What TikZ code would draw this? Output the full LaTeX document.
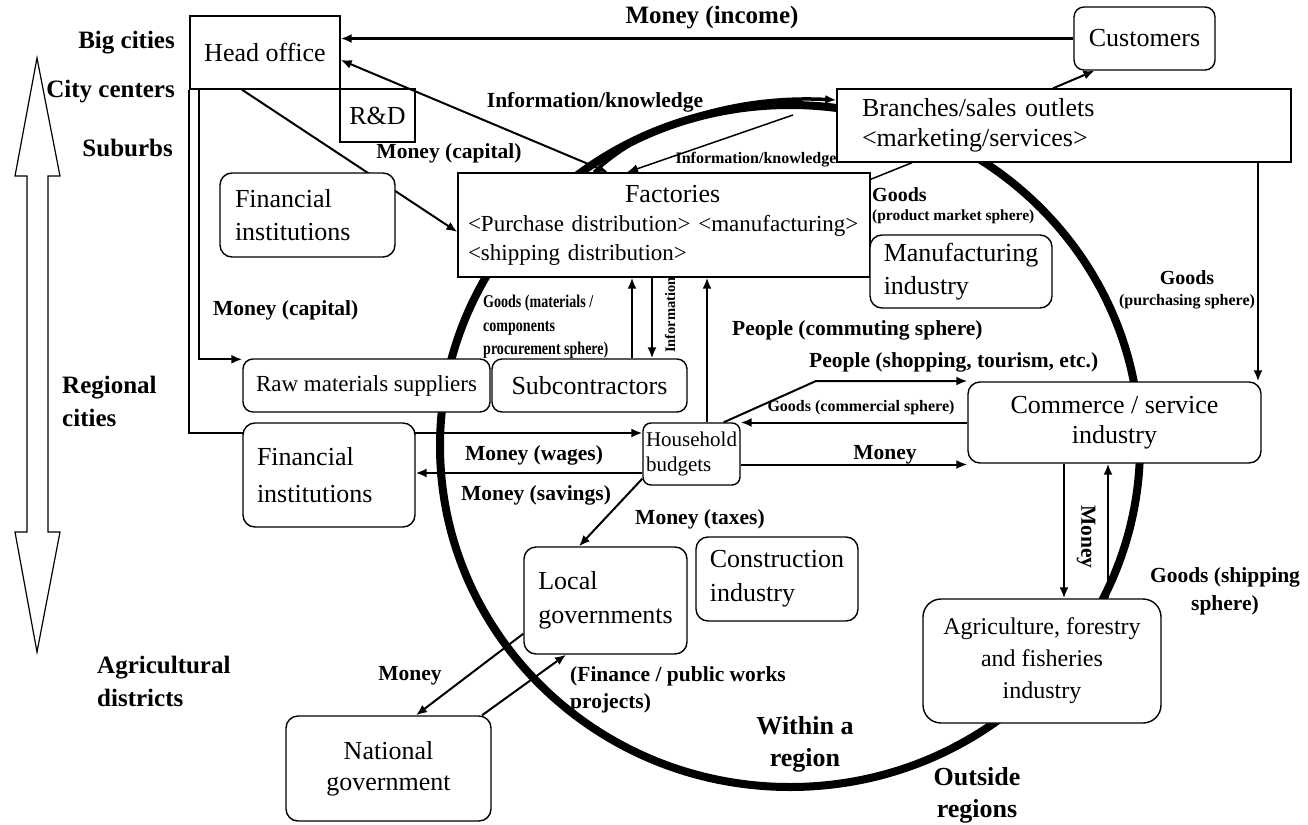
\documentclass[tikz,border=0pt]{standalone}
\usepackage{fontspec}
\usepackage{graphicx}
\setmainfont{Liberation Serif}
\usetikzlibrary{arrows.meta}
\pgfdeclarelayer{bg}
\pgfsetlayers{bg,main}
\newcommand\fsz[2]{\fontsize{#1}{#2}\selectfont}

\begin{document}
\begin{tikzpicture}[x=1pt,y=-1pt,
  box/.style={draw, line width=1.4pt, fill=white, inner sep=0pt, font=\fsz{26}{32}},
  rbox/.style={box, rounded corners=12pt},
  lab/.style={inner sep=0pt, font=\bfseries\fsz{21.5}{25}},
  region/.style={inner sep=0pt, font=\bfseries\fsz{25}{33}},
  arr/.style={line width=2pt, -{Latex[length=11pt,width=9pt]}},
  link/.style={line width=1.5pt}]

\useasboundingbox (0,0) rectangle (1308,824);

% ---------- boxes ----------
\node[box, minimum width=150pt, minimum height=73pt] (ho) at (265,52.5) {Head office};
\node[box, minimum width=75pt, minimum height=53pt] (rd) at (377.5,115.5) {R\&D};
\node[rbox, rounded corners=10pt, minimum width=141pt, minimum height=63pt] (cust) at (1144.5,38.5) {Customers};
\node[box, text width=404pt, inner xsep=25pt, minimum height=73pt, align=left, font=\fsz{26}{30}] (br) at (1064,125.5)
  {Branches/sales outlets\\<marketing/services>};
\node[box, text width=392pt, inner xsep=10pt, minimum height=104pt, align=left, font=\fsz{23}{29}] (fac) at (664,225)
  {{\fsz{26}{29}\hspace*{157pt}Factories}\\<Purchase distribution> <manufacturing>\\<shipping distribution>};
\node[rbox, minimum width=182pt, minimum height=73pt, align=left, font=\fsz{26}{33}] (mfg) at (961,271.5) {Manufacturing\\industry};
\node[rbox, text width=145pt, inner xsep=15pt, minimum height=84pt, align=left, font=\fsz{26}{33}] (fin1) at (307.5,215) {Financial\\institutions};
\node[rbox, text width=144pt, inner xsep=14pt, minimum height=104pt, align=left, font=\fsz{26}{37}] (fin2) at (329,475) {Financial\\institutions};
\node[rbox, rounded corners=10pt, minimum width=247pt, minimum height=53pt, font=\fsz{23}{28}] (raw) at (366.5,385.5) {Raw materials suppliers};
\node[rbox, rounded corners=10pt, minimum width=195pt, minimum height=53pt] (sub) at (589.5,385.5) {Subcontractors};
\node[rbox, rounded corners=8pt, minimum width=97pt, minimum height=62pt, align=left, font=\fsz{21}{25}] (hh) at (691.5,454) {Household\\budgets};
\node[rbox, minimum width=293pt, minimum height=81pt, align=center, font=\fsz{26}{30}] (com) at (1114.5,422.5) {Commerce / service\\industry};
\node[rbox, rounded corners=18pt, minimum width=238pt, minimum height=124pt, align=center, font=\fsz{24}{32}] (agr) at (1042,661) {Agriculture, forestry\\and fisheries\\industry};
\node[rbox, minimum width=162pt, minimum height=84pt, align=left, font=\fsz{26}{34}] (con) at (777,579) {Construction\\industry};
\node[rbox, minimum width=163pt, minimum height=107pt, align=left, font=\fsz{26}{34}] (loc) at (605.5,600.5) {Local\\governments};
\node[rbox, minimum width=205pt, minimum height=105pt, align=center, font=\fsz{26}{31}] (nat) at (388.5,768.5) {National\\government};

% ---------- scale of settlements ----------
\draw[line width=1.2pt, fill=white] (37,58) -- (60,176) -- (48,176) -- (48,532) -- (60,532) -- (37,652)
  -- (15,532) -- (27,532) -- (27,176) -- (15,176) -- cycle;
\node[region, anchor=east] (bigc) at (175,43) {Big cities};
\node[region, anchor=east] (cityc) at (175,92) {City centers};
\node[region, anchor=east] (subu) at (173,148) {Suburbs};
\node[region, anchor=west, align=left] (regc) at (62,401) {Regional\\cities};
\node[region, anchor=west, align=left] (agrd) at (97,681) {Agricultural\\districts};

% ---------- region boundary and hidden flows ----------
\begin{pgfonlayer}{bg}
  \draw[line width=8pt] (790,446) ellipse [x radius=350pt, y radius=341pt];
  \draw[arr] ([xshift=-23pt]ho.south) -- ([yshift=-7pt]fac.west);
  \draw[arr] (ho.south west) |- ([yshift=21pt]hh.west);
\end{pgfonlayer}

% ---------- flows ----------
\draw[arr, line width=2.6pt] (cust.west) -- (cust.west -| ho.east);
\draw[arr] ([xshift=-11pt]br.north) -- ([xshift=-50pt]cust.south);
\draw[arr] ([xshift=194pt]br.south) -- ([xshift=143.5pt]com.north);
\draw[line width=2pt, {Latex[length=11pt,width=9pt]}-{Latex[length=11pt,width=9pt]}]
  ([yshift=-7.5pt]ho.east) -- ([xshift=-56pt]fac.north);
\coordinate (kb) at (793,115);
\draw[arr, line width=1.5pt] (kb) -- ([xshift=-37pt]fac.north);
\draw[arr, line width=3.5pt] ([xshift=-70pt]fac.north) .. controls (650,120) and (740,95) .. ([yshift=25.5pt]br.west);
\draw[link] ([yshift=-7pt]fac.north east) -- ([xshift=-152pt]br.south);
\draw[arr] ([xshift=42.5pt]sub.north) -- ([xshift=-32pt]fac.south);
\draw[arr] ([xshift=-12pt]fac.south) -- ([xshift=62.5pt]sub.north);
\draw[arr] ([xshift=15.5pt]hh.north) -- ([xshift=43pt]fac.south);
\draw[arr] ([xshift=10pt]ho.south west) |- ([yshift=-1pt]raw.north west);
\coordinate (hhS) at ([yshift=-19pt]hh.west);
\draw[arr] (hhS) -- (hhS -| fin2.east);
\draw[arr] ([yshift=7pt]hh.south west) -- ([xshift=-26.5pt]loc.north);
\draw[arr] (com.west) -- (com.west -| hh.east);
\coordinate (hhM) at ([yshift=-10.5pt]hh.east);
\draw[arr] (hhM) -- (hhM -| com.west);
\coordinate (pk) at (816,381);
\draw[arr] ([xshift=-17pt]hh.north east) -- (pk) -- (pk -| com.west);
\draw[arr] ([xshift=-50.5pt]com.south) -- ([xshift=22pt]agr.north);
\draw[arr] ([xshift=66pt]agr.north) -- ([xshift=-6.5pt]com.south);
\draw[arr] ([yshift=21pt]loc.south west) -- ([xshift=27.5pt]nat.north);
\draw[arr] ([xshift=93.5pt]nat.north) -- ([xshift=-39.5pt]loc.south);

% ---------- flow labels ----------
\node[lab, font=\bfseries\fsz{25}{28}] (lInc) at (712,18) {Money (income)};
\node[lab] (lInfo) at (595,102) {Information/knowledge};
\node[lab] (lCap1) at (449,153) {Money (capital)};
\node[lab, font=\bfseries\fsz{16}{18}] (lInfo2) at (756,160) {Information/knowledge};
\node[lab, anchor=west, font=\bfseries\fsz{20}{22}] (lGd1) at (872,195) {Goods};
\node[lab, anchor=west, font=\bfseries\fsz{15.5}{18}] (lGd1s) at (872,217) {(product market sphere)};
\node[lab, font=\bfseries\fsz{20}{22}] (lGd2) at (1187,278) {Goods};
\node[lab, font=\bfseries\fsz{16}{18}] (lGd2s) at (1187,302) {(purchasing sphere)};
\node[lab, anchor=west] (lCap2) at (213,310) {Money (capital)};
\node[lab, anchor=west, align=left, font=\bfseries\fsz{18}{23.5}] (lGd3) at (483,327)
  {\scalebox{0.78}[1]{Goods (materials /}\\\scalebox{0.78}[1]{components}\\\scalebox{0.78}[1]{procurement sphere)}};
\node[lab, rotate=90, font=\bfseries\fsz{14.5}{16}] (lInfo3) at (670,315) {Information};
\node[lab, anchor=west] (lPpl1) at (732,330) {People (commuting sphere)};
\node[lab, anchor=west] (lPpl2) at (809,362) {People (shopping, tourism, etc.)};
\node[lab, font=\bfseries\fsz{16}{18}] (lGd4) at (861,408) {Goods (commercial sphere)};
\node[lab] (lMon1) at (885,455) {Money};
\node[lab] (lWag) at (534,455) {Money (wages)};
\node[lab] (lSav) at (536,495) {Money (savings)};
\node[lab, anchor=west] (lTax) at (635,519) {Money (taxes)};
\node[lab, rotate=-90] (lMon2) at (1086,537) {Money};
\node[lab, align=center, font=\bfseries\fsz{21.5}{28}] (lShip) at (1225,591) {Goods (shipping\\sphere)};
\node[lab] (lMon3) at (410,676) {Money};
\node[lab, anchor=west, align=left, font=\bfseries\fsz{21.5}{27}] (lFin) at (570,690) {(Finance / public works\\projects)};
\node[lab, align=center, font=\bfseries\fsz{26}{32}] (lIn) at (805,744) {Within a\\region};
\node[lab, align=center, font=\bfseries\fsz{26}{32}] (lOut) at (977,795) {Outside\\regions};
\end{tikzpicture}
\end{document}
